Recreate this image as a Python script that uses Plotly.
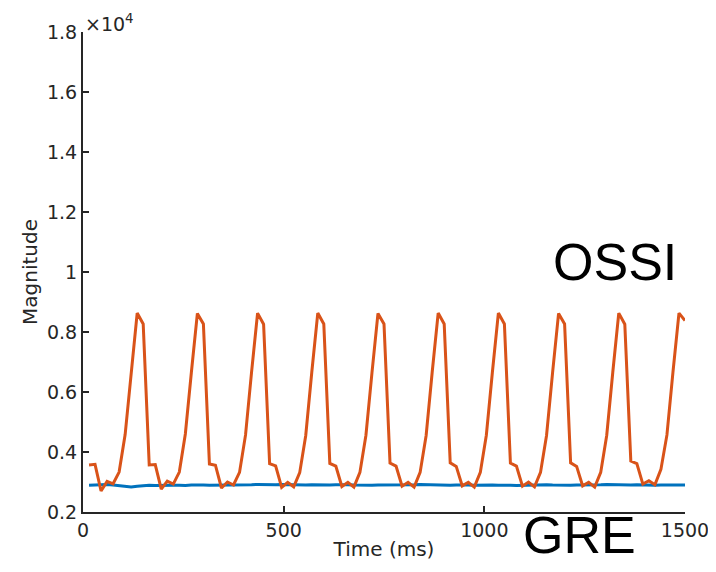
import plotly.graph_objects as go

# Time base (ms)
time_ms = [15 * (k + 1) for k in range(100)]

# OSSI signal magnitude
ossi = [
    3570, 3590, 2700, 3020, 2940, 3330, 4580, 6680, 8630,
    8270, 3570, 3580, 2760, 3030, 2930, 3330, 4600, 6650, 8620,
    8270, 3600, 3560, 2800, 3000, 2900, 3320, 4570, 6660, 8630,
    8260, 3610, 3540, 2820, 2990, 2840, 3310, 4550, 6650, 8630,
    8270, 3620, 3530, 2850, 2990, 2830, 3320, 4560, 6640, 8620,
    8270, 3630, 3530, 2860, 2990, 2830, 3320, 4550, 6650, 8630,
    8270, 3640, 3520, 2870, 2990, 2830, 3320, 4560, 6650, 8630,
    8270, 3630, 3530, 2860, 3000, 2840, 3320, 4550, 6640, 8620,
    8270, 3640, 3520, 2870, 2990, 2830, 3320, 4560, 6650, 8630,
    8260, 3700, 3610, 2930, 3040, 2910, 3420, 4570, 6660, 8630,
    8380,
]

# GRE signal magnitude
gre = [
    2890, 2900, 2930, 2920, 2900, 2880, 2850, 2830, 2860, 2880,
    2890, 2880, 2890, 2900, 2890, 2890, 2880, 2900, 2910, 2900,
    2890, 2890, 2900, 2910, 2900, 2890, 2900, 2910, 2920, 2910,
    2900, 2910, 2920, 2910, 2900, 2890, 2900, 2910, 2900, 2890,
    2900, 2910, 2920, 2910, 2900, 2890, 2880, 2890, 2900, 2900,
    2910, 2900, 2890, 2900, 2910, 2920, 2910, 2900, 2890, 2880,
    2890, 2900, 2910, 2900, 2890, 2900, 2910, 2900, 2890, 2900,
    2890, 2880, 2890, 2900, 2910, 2920, 2910, 2900, 2890, 2880,
    2890, 2900, 2900, 2890, 2900, 2910, 2920, 2910, 2900, 2890,
    2900, 2910, 2900, 2890, 2890, 2900, 2900, 2900, 2900, 2900,
]

y_ticks = [2000, 4000, 6000, 8000, 10000, 12000, 14000, 16000, 18000]
y_tick_labels = ['0.2', '0.4', '0.6', '0.8', '1', '1.2', '1.4', '1.6', '1.8']
x_ticks = [0, 500, 1000, 1500]

# The page body adds an 8px margin around the figure
OFF = 8
W, H = 716 - OFF, 572 - 2 * OFF
L, T = 83 - OFF, 32 - OFF
R = W - (685 - OFF)
B = H - (512 - OFF)


def px(x, y):
    # window pixel -> paper coordinates
    x, y = x - OFF, y - OFF
    return (x - L) / (W - L - R), 1 - (y - T) / (H - T - B)


fig = go.Figure()

fig.add_trace(go.Scatter(
    x=time_ms, y=gre, mode='lines',
    line=dict(color='#0072BD', width=3),
    name='GRE', showlegend=False
))
fig.add_trace(go.Scatter(
    x=time_ms, y=ossi, mode='lines',
    line=dict(color='#D95319', width=3),
    name='OSSI', showlegend=False
))

tick_font = dict(family='DejaVu Sans', size=19, color='#262626')
title_font = dict(family='DejaVu Sans', size=20, color='#262626')
big_font = dict(family='Liberation Sans', size=52, color='black')

ossi_x, ossi_y = px(615, 262)
gre_x, gre_y = px(579, 535)

fig.update_layout(
    width=W, height=H,
    margin=dict(l=L, r=R, t=T, b=B, autoexpand=False),
    plot_bgcolor='white', paper_bgcolor='white',
    font=tick_font,
    xaxis=dict(
        range=[0, 1500], tickvals=x_ticks, tickfont=tick_font,
        ticks='inside', ticklen=6, tickwidth=1.5, tickcolor='#262626',
        showline=True, linecolor='#262626', linewidth=2,
        showgrid=False, zeroline=False, automargin=False,
        ticklabeloverflow='allow',
        title=dict(text='Time (ms)', font=title_font, standoff=2),
    ),
    yaxis=dict(
        range=[2000, 18000], tickvals=y_ticks, ticktext=y_tick_labels,
        tickfont=tick_font,
        ticks='inside', ticklen=6, tickwidth=1.5, tickcolor='#262626',
        showline=True, linecolor='#262626', linewidth=2,
        showgrid=False, zeroline=False, automargin=False,
        title=dict(text='Magnitude', font=title_font, standoff=4),
    ),
    annotations=[
        dict(text='×10<sup>4</sup>', x=0, y=1, xref='paper', yref='paper',
             xanchor='left', yanchor='bottom', showarrow=False,
             font=dict(family='DejaVu Sans', size=19, color='#262626'),
             yshift=-5),
        dict(text='OSSI', x=ossi_x, y=ossi_y, xref='paper', yref='paper',
             xanchor='center', yanchor='middle', showarrow=False,
             font=big_font),
        dict(text='GRE', x=gre_x, y=gre_y, xref='paper', yref='paper',
             xanchor='center', yanchor='middle', showarrow=False,
             font=big_font),
    ],
)

fig.write_html('out.html')
